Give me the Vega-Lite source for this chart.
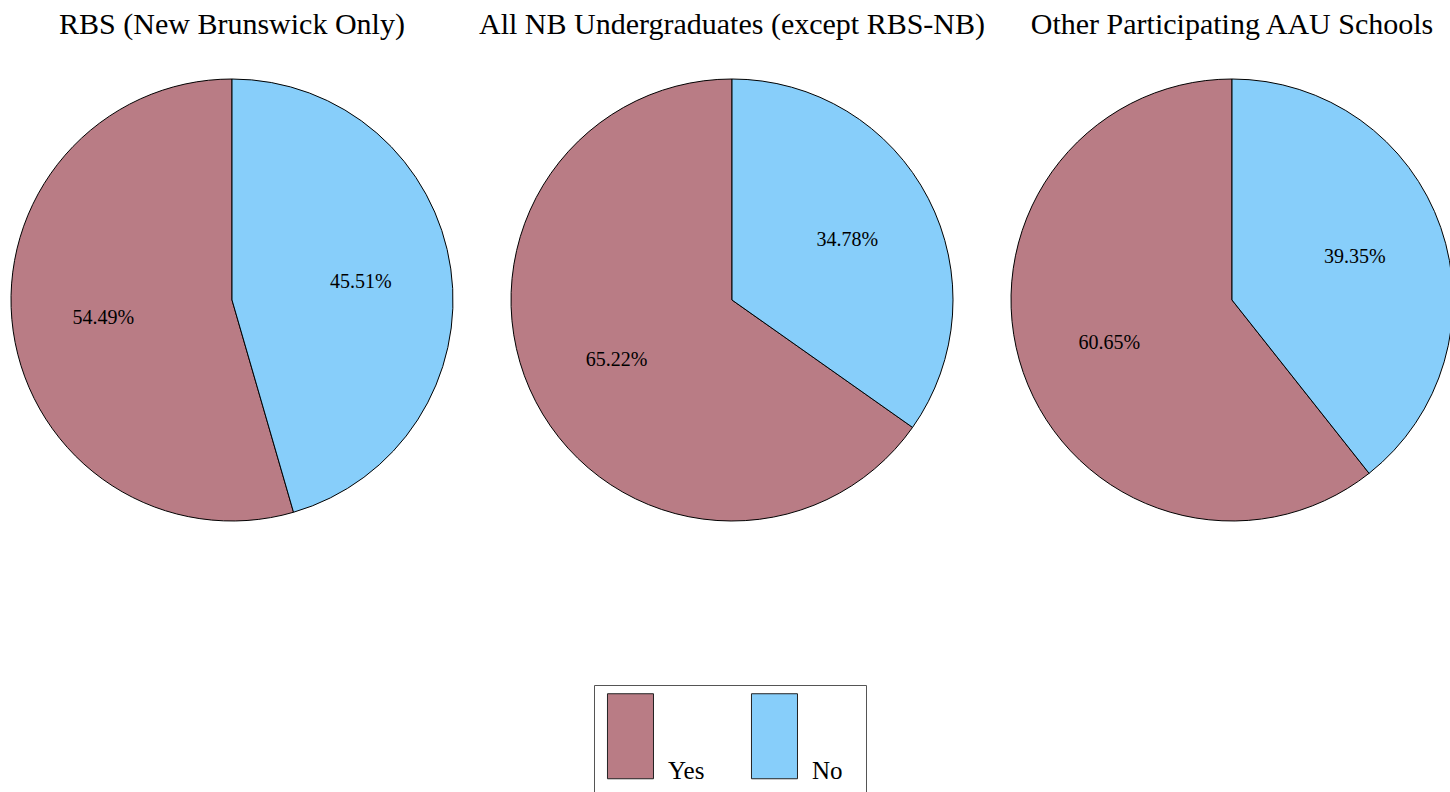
{
  "$schema": "https://vega.github.io/schema/vega-lite/v6.json",
  "padding": {"left": 9, "top": 10, "right": 0, "bottom": 0},
  "background": "white",
  "bounds": "flush",
  "data": {
    "values": [
      {"group": "RBS (New Brunswick Only)", "answer": "Yes", "pct": 0.5449},
      {"group": "RBS (New Brunswick Only)", "answer": "No", "pct": 0.4551},
      {"group": "All NB Undergraduates (except RBS-NB)", "answer": "Yes", "pct": 0.6522},
      {"group": "All NB Undergraduates (except RBS-NB)", "answer": "No", "pct": 0.3478},
      {"group": "Other Participating AAU Schools", "answer": "Yes", "pct": 0.6065},
      {"group": "Other Participating AAU Schools", "answer": "No", "pct": 0.3935}
    ]
  },
  "facet": {
    "column": {
      "field": "group",
      "type": "nominal",
      "sort": ["RBS (New Brunswick Only)", "All NB Undergraduates (except RBS-NB)", "Other Participating AAU Schools"],
      "header": {
        "title": null,
        "labelFont": "Liberation Serif",
        "labelFontSize": 30,
        "labelColor": "black",
        "labelPadding": 39,
        "labelLimit": 0
      }
    }
  },
  "spacing": 58,
  "spec": {
    "width": 442,
    "height": 442,
    "encoding": {
      "theta": {"field": "pct", "type": "quantitative", "stack": true},
      "order": {"field": "answer", "type": "nominal", "sort": "ascending"}
    },
    "layer": [
      {
        "mark": {"type": "arc", "stroke": "black", "strokeWidth": 1},
        "encoding": {
          "color": {
            "field": "answer",
            "type": "nominal",
            "scale": {"domain": ["Yes", "No"], "range": ["#B97C85", "#87CEFA"]},
            "legend": {
              "title": null,
              "orient": "none",
              "legendX": 583,
              "legendY": 606,
              "direction": "horizontal",
              "symbolType": "M-1.233,-1.349H-0.163V0.628H-1.233Z",
              "symbolSize": 7396,
              "symbolStrokeColor": "#222222",
              "symbolStrokeWidth": 1,
              "symbolOpacity": 1,
              "labelFont": "Liberation Serif",
              "labelFontSize": 25,
              "labelColor": "black",
              "labelBaseline": "alphabetic",
              "labelExpr": "['', datum.label]",
              "labelOffset": -36,
              "labelLimit": 0,
              "columnPadding": 44,
              "padding": 23,
              "strokeColor": "#555555",
              "fillColor": "white"
            }
          }
        }
      },
      {
        "mark": {"type": "text", "radius": 130, "font": "Liberation Serif", "fontSize": 20, "color": "black"},
        "encoding": {
          "text": {"field": "pct", "type": "quantitative", "format": ".2%"}
        }
      }
    ]
  },
  "config": {
    "view": {"stroke": null}
  }
}
